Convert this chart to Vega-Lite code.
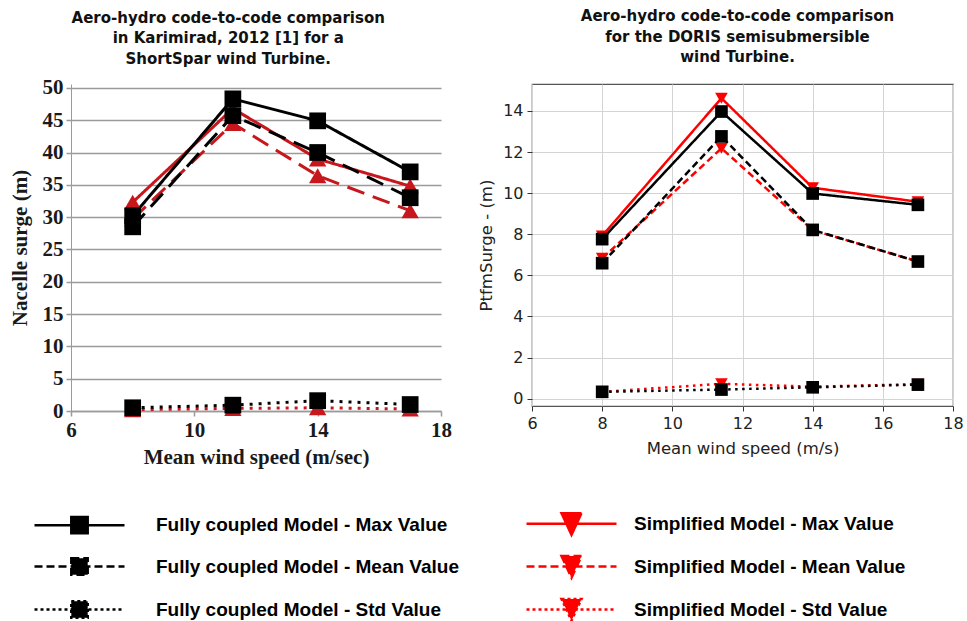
{
  "$schema": "https://vega.github.io/schema/vega-lite/v6.json",
  "background": "white",
  "padding": {"left": 9, "top": 8, "right": 4, "bottom": 0},
  "spacing": 26,
  "config": {"view": {"stroke": null}, "font": "DejaVu Sans", "axis": {"labelFlush": false}},
  "datasets": {
    "pts": [
      {"panel": "left", "model": "Fully coupled", "stat": "Max", "series": "Fully coupled Model - Max Value", "x": 8, "y": 30.2},
      {"panel": "left", "model": "Fully coupled", "stat": "Max", "series": "Fully coupled Model - Max Value", "x": 11.25, "y": 48.3},
      {"panel": "left", "model": "Fully coupled", "stat": "Max", "series": "Fully coupled Model - Max Value", "x": 14, "y": 44.9},
      {"panel": "left", "model": "Fully coupled", "stat": "Max", "series": "Fully coupled Model - Max Value", "x": 17, "y": 37.0},
      {"panel": "left", "model": "Fully coupled", "stat": "Mean", "series": "Fully coupled Model - Mean Value", "x": 8, "y": 28.5},
      {"panel": "left", "model": "Fully coupled", "stat": "Mean", "series": "Fully coupled Model - Mean Value", "x": 11.25, "y": 45.7},
      {"panel": "left", "model": "Fully coupled", "stat": "Mean", "series": "Fully coupled Model - Mean Value", "x": 14, "y": 40.0},
      {"panel": "left", "model": "Fully coupled", "stat": "Mean", "series": "Fully coupled Model - Mean Value", "x": 17, "y": 33.0},
      {"panel": "left", "model": "Fully coupled", "stat": "Std", "series": "Fully coupled Model - Std Value", "x": 8, "y": 0.5},
      {"panel": "left", "model": "Fully coupled", "stat": "Std", "series": "Fully coupled Model - Std Value", "x": 11.25, "y": 0.9},
      {"panel": "left", "model": "Fully coupled", "stat": "Std", "series": "Fully coupled Model - Std Value", "x": 14, "y": 1.6},
      {"panel": "left", "model": "Fully coupled", "stat": "Std", "series": "Fully coupled Model - Std Value", "x": 17, "y": 1.0},
      {"panel": "left", "model": "Simplified", "stat": "Max", "series": "Simplified Model - Max Value", "x": 8, "y": 32.3},
      {"panel": "left", "model": "Simplified", "stat": "Max", "series": "Simplified Model - Max Value", "x": 11.25, "y": 46.8},
      {"panel": "left", "model": "Simplified", "stat": "Max", "series": "Simplified Model - Max Value", "x": 14, "y": 39.0},
      {"panel": "left", "model": "Simplified", "stat": "Max", "series": "Simplified Model - Max Value", "x": 17, "y": 34.8},
      {"panel": "left", "model": "Simplified", "stat": "Mean", "series": "Simplified Model - Mean Value", "x": 8, "y": 29.7},
      {"panel": "left", "model": "Simplified", "stat": "Mean", "series": "Simplified Model - Mean Value", "x": 11.25, "y": 44.5},
      {"panel": "left", "model": "Simplified", "stat": "Mean", "series": "Simplified Model - Mean Value", "x": 14, "y": 36.4},
      {"panel": "left", "model": "Simplified", "stat": "Mean", "series": "Simplified Model - Mean Value", "x": 17, "y": 31.0},
      {"panel": "left", "model": "Simplified", "stat": "Std", "series": "Simplified Model - Std Value", "x": 8, "y": 0.2},
      {"panel": "left", "model": "Simplified", "stat": "Std", "series": "Simplified Model - Std Value", "x": 11.25, "y": 0.4},
      {"panel": "left", "model": "Simplified", "stat": "Std", "series": "Simplified Model - Std Value", "x": 14, "y": 0.5},
      {"panel": "left", "model": "Simplified", "stat": "Std", "series": "Simplified Model - Std Value", "x": 17, "y": 0.3},
      {"panel": "right", "model": "Fully coupled", "stat": "Max", "series": "Fully coupled Model - Max Value", "x": 8, "y": 7.76},
      {"panel": "right", "model": "Fully coupled", "stat": "Max", "series": "Fully coupled Model - Max Value", "x": 11.4, "y": 13.97},
      {"panel": "right", "model": "Fully coupled", "stat": "Max", "series": "Fully coupled Model - Max Value", "x": 14, "y": 9.98},
      {"panel": "right", "model": "Fully coupled", "stat": "Max", "series": "Fully coupled Model - Max Value", "x": 17, "y": 9.43},
      {"panel": "right", "model": "Fully coupled", "stat": "Mean", "series": "Fully coupled Model - Mean Value", "x": 8, "y": 6.59},
      {"panel": "right", "model": "Fully coupled", "stat": "Mean", "series": "Fully coupled Model - Mean Value", "x": 11.4, "y": 12.76},
      {"panel": "right", "model": "Fully coupled", "stat": "Mean", "series": "Fully coupled Model - Mean Value", "x": 14, "y": 8.21},
      {"panel": "right", "model": "Fully coupled", "stat": "Mean", "series": "Fully coupled Model - Mean Value", "x": 17, "y": 6.67},
      {"panel": "right", "model": "Fully coupled", "stat": "Std", "series": "Fully coupled Model - Std Value", "x": 8, "y": 0.33},
      {"panel": "right", "model": "Fully coupled", "stat": "Std", "series": "Fully coupled Model - Std Value", "x": 11.4, "y": 0.44},
      {"panel": "right", "model": "Fully coupled", "stat": "Std", "series": "Fully coupled Model - Std Value", "x": 14, "y": 0.55},
      {"panel": "right", "model": "Fully coupled", "stat": "Std", "series": "Fully coupled Model - Std Value", "x": 17, "y": 0.68},
      {"panel": "right", "model": "Simplified", "stat": "Max", "series": "Simplified Model - Max Value", "x": 8, "y": 7.92},
      {"panel": "right", "model": "Simplified", "stat": "Max", "series": "Simplified Model - Max Value", "x": 11.4, "y": 14.62},
      {"panel": "right", "model": "Simplified", "stat": "Max", "series": "Simplified Model - Max Value", "x": 14, "y": 10.26},
      {"panel": "right", "model": "Simplified", "stat": "Max", "series": "Simplified Model - Max Value", "x": 17, "y": 9.58},
      {"panel": "right", "model": "Simplified", "stat": "Mean", "series": "Simplified Model - Mean Value", "x": 8, "y": 6.83},
      {"panel": "right", "model": "Simplified", "stat": "Mean", "series": "Simplified Model - Mean Value", "x": 11.4, "y": 12.18},
      {"panel": "right", "model": "Simplified", "stat": "Mean", "series": "Simplified Model - Mean Value", "x": 14, "y": 8.2},
      {"panel": "right", "model": "Simplified", "stat": "Mean", "series": "Simplified Model - Mean Value", "x": 17, "y": 6.67},
      {"panel": "right", "model": "Simplified", "stat": "Std", "series": "Simplified Model - Std Value", "x": 8, "y": 0.33},
      {"panel": "right", "model": "Simplified", "stat": "Std", "series": "Simplified Model - Std Value", "x": 11.4, "y": 0.72},
      {"panel": "right", "model": "Simplified", "stat": "Std", "series": "Simplified Model - Std Value", "x": 14, "y": 0.58},
      {"panel": "right", "model": "Simplified", "stat": "Std", "series": "Simplified Model - Std Value", "x": 17, "y": 0.7}
    ]
  },
  "resolve": {"scale": {"strokeDash": "independent"}},
  "hconcat": [
    {
      "width": 370,
      "height": 327,
      "data": {"name": "pts"},
      "transform": [{"filter": "datum.panel === 'left'"}],
      "title": {
        "text": ["Aero-hydro code-to-code comparison", "in Karimirad, 2012 [1] for a", "ShortSpar wind Turbine."],
        "font": "DejaVu Sans", "fontWeight": "bold", "fontSize": 15, "lineHeight": 20.5,
        "color": "#111", "anchor": "middle", "frame": "bounds", "offset": 10, "dx": -2
      },
      "encoding": {
        "x": {
          "field": "x", "type": "quantitative",
          "scale": {"domain": [6, 18], "nice": false, "zero": false},
          "axis": {
            "values": [6, 10, 14, 18], "grid": false, "labelFlush": false,
            "domainColor": "#9a9a9a", "domainWidth": 1.5, "tickColor": "#9a9a9a", "tickWidth": 1.5, "tickSize": 5,
            "labelFont": "Liberation Serif", "labelFontWeight": "bold", "labelFontSize": 21, "labelColor": "#1a1a1a", "labelPadding": 3,
            "title": "Mean wind speed (m/sec)", "titleFont": "Liberation Serif", "titleFontWeight": "bold", "titleFontSize": 21, "titleColor": "#1a1a1a", "titlePadding": 6
          }
        },
        "y": {
          "field": "y", "type": "quantitative",
          "scale": {"domain": [0, 50.6], "nice": false, "zero": false},
          "axis": {
            "values": [0, 5, 10, 15, 20, 25, 30, 35, 40, 45, 50], "grid": true, "labelFlush": false,
            "gridColor": "#9a9a9a", "gridWidth": 1.5,
            "domainColor": "#9a9a9a", "domainWidth": 1, "tickColor": "#9a9a9a", "tickWidth": 1.5, "tickSize": 5,
            "labelFont": "Liberation Serif", "labelFontWeight": "bold", "labelFontSize": 21, "labelColor": "#1a1a1a", "labelPadding": 3,
            "title": "Nacelle surge (m)", "titleFont": "Liberation Serif", "titleFontWeight": "bold", "titleFontSize": 21, "titleColor": "#1a1a1a", "titlePadding": 12
          }
        }
      },
      "layer": [
        {
          "transform": [{"filter": "datum.model === 'Simplified'"}],
          "mark": {"type": "line", "stroke": "#c8161d", "strokeWidth": 3},
          "encoding": {
            "detail": {"field": "series"},
            "strokeDash": {"field": "stat", "type": "nominal", "scale": {"domain": ["Max", "Mean", "Std"], "range": [[1, 0], [18, 9], [3, 6]]}, "legend": null}
          }
        },
        {
          "transform": [{"filter": "datum.model === 'Fully coupled'"}],
          "mark": {"type": "line", "stroke": "#000000", "strokeWidth": 3},
          "encoding": {
            "detail": {"field": "series"},
            "strokeDash": {"field": "stat", "type": "nominal", "scale": {"domain": ["Max", "Mean", "Std"], "range": [[1, 0], [18, 9], [3, 6]]}, "legend": null}
          }
        },
        {
          "transform": [{"filter": "datum.model === 'Simplified'"}],
          "mark": {"type": "point", "shape": "triangle-up", "filled": true, "fill": "#c8161d", "opacity": 1, "size": 300, "strokeWidth": 0}
        },
        {
          "transform": [{"filter": "datum.model === 'Fully coupled'"}],
          "mark": {"type": "point", "shape": "square", "filled": true, "fill": "#000000", "opacity": 1, "size": 280, "strokeWidth": 0}
        }
      ]
    },
    {
      "width": 421,
      "height": 322,
      "view": {"stroke": "#555555", "strokeWidth": 1.2},
      "data": {"name": "pts"},
      "transform": [{"filter": "datum.panel === 'right'"}],
      "title": {
        "text": ["Aero-hydro code-to-code comparison", "for the DORIS semisubmersible", "wind Turbine."],
        "font": "DejaVu Sans", "fontWeight": "bold", "fontSize": 15, "lineHeight": 20.5,
        "color": "#111", "anchor": "middle", "frame": "group", "offset": 19, "dx": -5
      },
      "encoding": {
        "x": {
          "field": "x", "type": "quantitative",
          "scale": {"domain": [6, 18], "nice": false, "zero": false},
          "axis": {
            "values": [6, 8, 10, 12, 14, 16, 18], "grid": true, "gridColor": "#d4d4d4", "gridWidth": 1, "labelFlush": false,
            "domain": false, "tickColor": "#333333", "tickWidth": 1, "tickSize": 5,
            "labelFont": "DejaVu Sans", "labelFontSize": 16, "labelColor": "#222222", "labelPadding": 4,
            "title": "Mean wind speed (m/s)", "titleFont": "DejaVu Sans", "titleFontWeight": "normal", "titleFontSize": 16.5, "titleColor": "#222222", "titlePadding": 9
          }
        },
        "y": {
          "field": "y", "type": "quantitative",
          "scale": {"domain": [-0.36, 15.31], "nice": false, "zero": false},
          "axis": {
            "values": [0, 2, 4, 6, 8, 10, 12, 14], "grid": true, "gridColor": "#d4d4d4", "gridWidth": 1, "labelFlush": false,
            "domain": false, "tickColor": "#333333", "tickWidth": 1, "tickSize": 5,
            "labelFont": "DejaVu Sans", "labelFontSize": 16, "labelColor": "#222222", "labelPadding": 4,
            "title": "PtfmSurge - (m)", "titleFont": "DejaVu Sans", "titleFontWeight": "normal", "titleFontSize": 16.5, "titleColor": "#222222", "titlePadding": 8
          }
        },
        "color": {
          "field": "series", "type": "nominal",
          "scale": {
            "domain": ["Fully coupled Model - Max Value", "Fully coupled Model - Mean Value", "Fully coupled Model - Std Value", "Simplified Model - Max Value", "Simplified Model - Mean Value", "Simplified Model - Std Value"],
            "range": ["#000000", "#000000", "#000000", "#ff0000", "#ff0000", "#ff0000"]
          },
          "legend": {
            "orient": "none", "legendX": -37, "legendY": 428, "columns": 2, "direction": "vertical", "title": null, "padding": 0,
            "labelFont": "Liberation Sans", "labelFontWeight": "bold", "labelFontSize": 19, "labelColor": "#000000", "labelLimit": 600,
            "labelOffset": 65, "columnPadding": 62, "rowPadding": 11, "symbolOffset": 34,
            "symbolSize": 400, "symbolStrokeWidth": 2.5, "symbolOpacity": 1,
            "encoding": {
              "symbols": {
                "shape": {"value": {"expr": "indexof(datum.value, 'Simplified') === 0 ? 'M-4.5,0H4.5M-1.0,-1.05H1.0L0,1.12Z' : 'M-4.5,0H4.5M-0.82,-0.82H0.82V0.82H-0.82Z'"}},
                "size": {"value": 400},
                "strokeDash": {"value": {"expr": "indexof(datum.value, 'Mean') > 0 ? [8, 4] : (indexof(datum.value, 'Std') > 0 ? [3, 3] : [1, 0])"}},
                "stroke": {"value": {"expr": "indexof(datum.value, 'Simplified') === 0 ? '#d40000' : '#000000'"}},
                "fill": {"value": {"expr": "indexof(datum.value, 'Simplified') === 0 ? '#d40000' : '#000000'"}},
                "strokeWidth": {"value": 2.5},
                "opacity": {"value": 1}
              },
              "labels": {
                "dx": {"value": {"expr": "indexof(datum.value, 'Simplified') === 0 ? -14 : 0"}}
              }
            }
          }
        }
      },
      "layer": [
        {
          "transform": [{"filter": "datum.model === 'Simplified'"}],
          "mark": {"type": "line", "strokeWidth": 2.5},
          "encoding": {
            "strokeDash": {"field": "stat", "type": "nominal", "scale": {"domain": ["Max", "Mean", "Std"], "range": [[1, 0], [7, 4], [2.5, 4.5]]}, "legend": null}
          }
        },
        {
          "transform": [{"filter": "datum.model === 'Fully coupled'"}],
          "mark": {"type": "line", "strokeWidth": 2.5},
          "encoding": {
            "strokeDash": {"field": "stat", "type": "nominal", "scale": {"domain": ["Max", "Mean", "Std"], "range": [[1, 0], [7, 4], [2.5, 4.5]]}, "legend": null}
          }
        },
        {
          "transform": [{"filter": "datum.model === 'Simplified'"}],
          "mark": {"type": "point", "shape": "triangle-down", "filled": true, "opacity": 1, "size": 160, "strokeWidth": 0}
        },
        {
          "transform": [{"filter": "datum.model === 'Fully coupled'"}],
          "mark": {"type": "point", "shape": "square", "filled": true, "opacity": 1, "size": 160, "strokeWidth": 0}
        }
      ]
    }
  ]
}
